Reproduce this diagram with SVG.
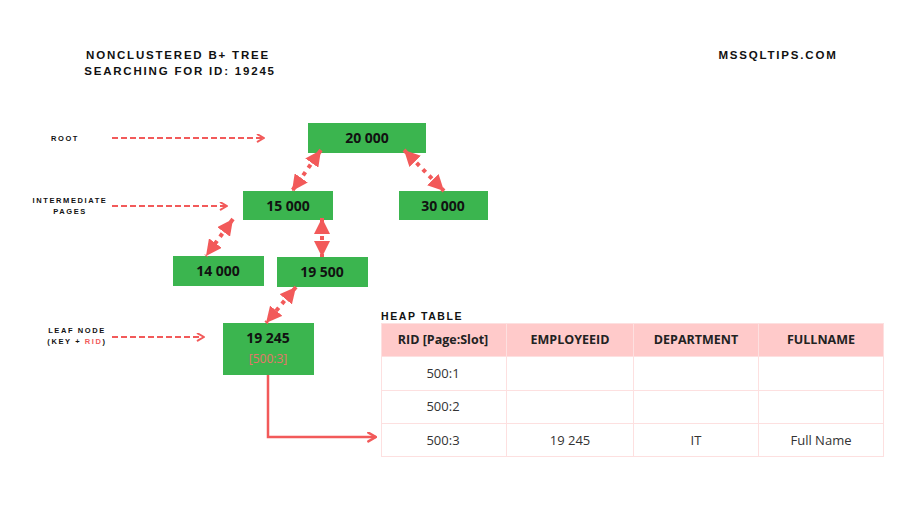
<svg xmlns="http://www.w3.org/2000/svg" width="900" height="506" viewBox="0 0 900 506">
<style>
.title{font-family:"Liberation Sans",Arial,sans-serif;font-weight:bold;font-size:11.5px;letter-spacing:1.8px;fill:#111}
.lbl{font-family:"Liberation Sans",Arial,sans-serif;font-weight:bold;font-size:7.5px;letter-spacing:1.6px;fill:#111}
.node rect{fill:#3bb54f}
.node text{font-family:"Open Sans","Liberation Sans",sans-serif;font-weight:bold;font-size:14px;fill:#111;text-anchor:middle}
.rid{font-family:"Open Sans","Liberation Sans",sans-serif;font-size:12px;fill:#e8736a;text-anchor:middle}
.dash{stroke:#f25a5a;stroke-width:2;stroke-dasharray:6 3;fill:none}
.dot{stroke:#f25a5a;stroke-width:4;stroke-dasharray:4 5;fill:none}
.solid{stroke:#f25a5a;stroke-width:2.5;fill:none}
.th{fill:#ffcaca}
.grid{stroke:#fde0e0;stroke-width:1;fill:none}
.hdr{font-family:"Open Sans","Liberation Sans",sans-serif;font-weight:bold;font-size:12.5px;fill:#222;text-anchor:middle}
.cell{font-family:"Open Sans","Liberation Sans",sans-serif;font-size:13px;fill:#333;text-anchor:middle}
</style>
<defs>
<marker id="chev" viewBox="0 0 10 10" refX="9" refY="5" markerWidth="9" markerHeight="9" markerUnits="userSpaceOnUse" orient="auto">
<path d="M2,1 L9,5 L2,9" fill="none" stroke="#f25a5a" stroke-width="2.2" stroke-linecap="round" stroke-linejoin="round"/>
</marker>
<marker id="chev2" viewBox="0 0 10 10" refX="9" refY="5" markerWidth="11" markerHeight="11" markerUnits="userSpaceOnUse" orient="auto">
<path d="M2,1 L9,5 L2,9" fill="none" stroke="#f25a5a" stroke-width="2.2" stroke-linecap="round" stroke-linejoin="round"/>
</marker>
<marker id="tri" viewBox="0 0 10 10" refX="10" refY="5" markerWidth="16" markerHeight="16" markerUnits="userSpaceOnUse" orient="auto-start-reverse">
<path d="M0,0 L10,5 L0,10 z" fill="#f25a5a"/>
</marker>
</defs>
<rect width="900" height="506" fill="#fff"/>

<g id="titles">
<text class="title" x="178" y="59" text-anchor="middle">NONCLUSTERED B+ TREE</text>
<text class="title" x="180" y="75" text-anchor="middle">SEARCHING FOR ID: 19245</text>
<text class="title" x="778" y="59" text-anchor="middle">MSSQLTIPS.COM</text>
</g>

<g id="labels">
<text class="lbl" x="65" y="141" text-anchor="middle">ROOT</text>
<text class="lbl" x="70" y="203" text-anchor="middle">INTERMEDIATE</text>
<text class="lbl" x="70" y="214" text-anchor="middle">PAGES</text>
<text class="lbl" x="77" y="333" text-anchor="middle">LEAF NODE</text>
<text class="lbl" x="77" y="344" text-anchor="middle">(KEY + <tspan fill="#f25a5a">RID</tspan>)</text>
</g>

<g id="n20000" class="node"><rect x="308" y="123" width="118" height="30"/><text x="367" y="143">20 000</text></g>
<g id="n15000" class="node"><rect x="243" y="191" width="90" height="29"/><text x="288" y="211">15 000</text></g>
<g id="n30000" class="node"><rect x="399" y="191" width="89" height="29"/><text x="443" y="211">30 000</text></g>
<g id="n14000" class="node"><rect x="173" y="256" width="91" height="30"/><text x="218" y="276">14 000</text></g>
<g id="n19500" class="node"><rect x="277" y="257" width="91" height="30"/><text x="322" y="277">19 500</text></g>
<g id="n19245" class="node"><rect x="223" y="323" width="91" height="52"/><text x="268" y="343">19 245</text><text class="rid" x="268" y="363" style="font-weight:normal;font-size:12px;fill:#e8736a">[500:3]</text></g>

<g id="heap">
<text class="lbl" x="381" y="320" style="font-size:10.5px;letter-spacing:1.6px">HEAP TABLE</text>
<rect class="th" x="381" y="323" width="503" height="33"/>
<rect class="grid" x="381.5" y="323.5" width="502" height="133"/>
<path class="grid" d="M381,356.5 H884 M381,390.5 H884 M381,423.5 H884 M506.5,323 V457 M633.5,323 V457 M758.5,323 V457"/>
<text class="hdr" x="443" y="344">RID [Page:Slot]</text>
<text class="hdr" x="570" y="344">EMPLOYEEID</text>
<text class="hdr" x="696" y="344">DEPARTMENT</text>
<text class="hdr" x="821" y="344">FULLNAME</text>
<text class="cell" x="443" y="378">500:1</text>
<text class="cell" x="443" y="411">500:2</text>
<text class="cell" x="443" y="445">500:3</text>
<text class="cell" x="570" y="445">19 245</text>
<text class="cell" x="696" y="445">IT</text>
<text class="cell" x="821" y="445">Full Name</text>
</g>

<g id="connectors">
<line class="dash" x1="112" y1="138" x2="264" y2="138" marker-end="url(#chev)"/>
<line class="dash" x1="112" y1="206" x2="227" y2="206" marker-end="url(#chev)"/>
<line class="dash" x1="112" y1="337" x2="204" y2="337" marker-end="url(#chev)"/>
<line class="dot" x1="321" y1="150" x2="292" y2="191" marker-start="url(#tri)" marker-end="url(#tri)"/>
<line class="dot" x1="404" y1="150" x2="444" y2="191" marker-start="url(#tri)" marker-end="url(#tri)"/>
<line class="dot" x1="233" y1="219" x2="206" y2="256" marker-start="url(#tri)" marker-end="url(#tri)"/>
<line class="dot" x1="322" y1="218" x2="322" y2="257" marker-start="url(#tri)" marker-end="url(#tri)"/>
<line class="dot" x1="296" y1="287" x2="266" y2="323" marker-start="url(#tri)" marker-end="url(#tri)"/>
<path class="solid" d="M268,375 V437 H376" marker-end="url(#chev2)"/>
</g>
</svg>
